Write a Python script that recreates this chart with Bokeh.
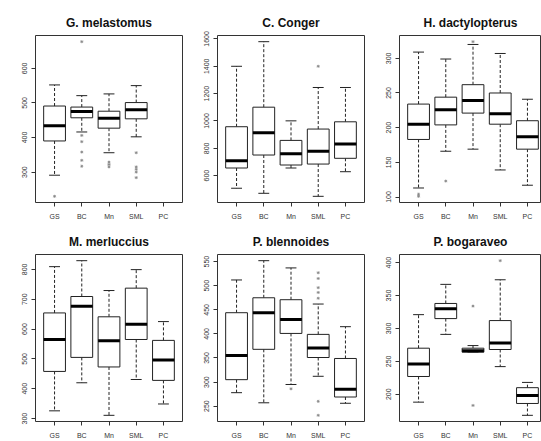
from bokeh.plotting import figure
from bokeh.layouts import gridplot
from bokeh.models import Range1d, FixedTicker
from bokeh.embed import file_html
from bokeh.resources import INLINE

SITES = ["GS", "BC", "Mn", "SML", "PC"]

# G. melastomus
GM_LOW = [291, 416, 356, 402, None]
GM_Q1 = [390, 457, 427, 454, None]
GM_MED = [434, 475, 456, 480, None]
GM_Q3 = [491, 488, 476, 501, None]
GM_HIGH = [552, 521, 526, 550, None]
GM_OUT = [[230], [677, 406, 388, 358, 334, 317], [329, 322, 315], [356, 315, 308, 300, 284], []]
GM_TICKS = [300, 400, 500, 600]

# C. Conger
CC_LOW = [508, 471, 656, 449, 629]
CC_Q1 = [656, 751, 678, 685, 727]
CC_MED = [709, 914, 761, 778, 831]
CC_Q3 = [958, 1101, 858, 941, 994]
CC_HIGH = [1400, 1580, 1001, 1245, 1245]
CC_OUT = [[], [], [], [1400], []]
CC_TICKS = [600, 800, 1000, 1200, 1400, 1600]

# H. dactylopterus
HD_LOW = [113, 166, 169, 139, 117]
HD_Q1 = [183, 204, 221, 205, 169]
HD_MED = [205, 226, 239, 220, 187]
HD_Q3 = [234, 244, 262, 250, 210]
HD_HIGH = [309, 299, 320, 307, 241]
HD_OUT = [[104, 101], [123], [324], [], []]
HD_TICKS = [100, 150, 200, 250, 300]

# M. merluccius
MM_LOW = [326, 420, 311, 431, 349]
MM_Q1 = [458, 505, 473, 565, 428]
MM_MED = [565, 676, 561, 616, 496]
MM_Q3 = [654, 709, 641, 737, 562]
MM_HIGH = [809, 829, 729, 799, 625]
MM_OUT = [[], [], [], [], []]
MM_TICKS = [300, 400, 500, 600, 700, 800]

# P. blennoides
PB_LOW = [278, 257, 295, 312, 256]
PB_Q1 = [305, 368, 401, 351, 269]
PB_MED = [355, 444, 430, 371, 285]
PB_Q3 = [444, 475, 471, 399, 349]
PB_HIGH = [512, 552, 537, 462, 415]
PB_OUT = [[], [], [286], [527, 515, 496, 486, 474, 260, 231], []]
PB_TICKS = [250, 300, 350, 400, 450, 500, 550]

# P. bogaraveo
PG_LOW = [188, 291, 264, 242, 168]
PG_Q1 = [227, 315, 264, 268, 186]
PG_MED = [246, 330, 266, 278, 198]
PG_Q3 = [270, 338, 270, 312, 210]
PG_HIGH = [321, 367, 274, 374, 218]
PG_OUT = [[], [], [334, 183], [403], []]
PG_TICKS = [200, 250, 300, 350, 400]

TITLES = ["G. melastomus", "C. Conger", "H. dactylopterus",
          "M. merluccius", "P. blennoides", "P. bogaraveo"]

PANELS = [
    (GM_LOW, GM_Q1, GM_MED, GM_Q3, GM_HIGH, GM_OUT, GM_TICKS),
    (CC_LOW, CC_Q1, CC_MED, CC_Q3, CC_HIGH, CC_OUT, CC_TICKS),
    (HD_LOW, HD_Q1, HD_MED, HD_Q3, HD_HIGH, HD_OUT, HD_TICKS),
    (MM_LOW, MM_Q1, MM_MED, MM_Q3, MM_HIGH, MM_OUT, MM_TICKS),
    (PB_LOW, PB_Q1, PB_MED, PB_Q3, PB_HIGH, PB_OUT, PB_TICKS),
    (PG_LOW, PG_Q1, PG_MED, PG_Q3, PG_HIGH, PG_OUT, PG_TICKS),
]

FONT = "Liberation Sans"
COL_W = [190, 182, 169]
BORDER_L = [35, 27, 27]
BORDER_R = [8, 8, 0]
ROW_H = [227, 214]
BORDER_T = [35, 26]
BORDER_B = [25, 20]
FULL_FRAME = 147.0
BOXW = 0.8


def make_panel(idx):
    low, q1, med, q3, high, outs, ticks = PANELS[idx]
    row, col = divmod(idx, 3)
    w = COL_W[col]
    frame_w = w - BORDER_L[col] - BORDER_R[col]
    xspan = (5.5 - 0.5) * 1.08
    x0 = 0.5 - (5.5 - 0.5) * 0.04
    x1 = x0 + xspan * frame_w / FULL_FRAME

    vals = [v for arr in (low, high) for v in arr if v is not None]
    vals += [v for o in outs for v in o]
    lo, hi = min(vals), max(vals)
    pad = 0.04 * (hi - lo)

    p = figure(width=w, height=ROW_H[row], output_backend="svg", toolbar_location=None,
               x_range=Range1d(x0, x1), y_range=Range1d(lo - pad, hi + pad),
               min_border_left=BORDER_L[col], min_border_right=BORDER_R[col],
               min_border_top=BORDER_T[row], min_border_bottom=BORDER_B[row],
               title=TITLES[idx])
    p.background_fill_color = "white"
    p.border_fill_color = "white"
    p.outline_line_color = "#333333"
    p.outline_line_width = 1
    p.grid.visible = False

    p.title.text_font = FONT
    p.title.text_font_size = "12px"
    p.title.text_font_style = "bold"
    p.title.text_color = "#111111"
    p.title.align = "center"
    p.title.standoff = 11
    if col == 2:
        p.title.offset = 3

    for ax in (p.xaxis, p.yaxis):
        ax.axis_line_color = None
        ax.major_tick_in = 0
        ax.major_tick_out = 4
        ax.major_tick_line_color = "#333333"
        ax.minor_tick_line_color = None
        ax.major_label_text_font = FONT
        ax.major_label_text_font_size = "7px"
        ax.major_label_text_color = "#333333"

    p.xaxis.ticker = FixedTicker(ticks=[1, 2, 3, 4, 5])
    p.xaxis.major_label_overrides = {i + 1: s for i, s in enumerate(SITES)}
    p.xaxis.major_label_standoff = 6
    p.yaxis.ticker = FixedTicker(ticks=ticks)
    p.yaxis.major_label_orientation = "vertical"
    p.yaxis.major_label_standoff = 4

    keep = [i for i in range(5) if med[i] is not None]
    xs = [i + 1 for i in keep]
    L = [low[i] for i in keep]
    Q1 = [q1[i] for i in keep]
    M = [med[i] for i in keep]
    Q3 = [q3[i] for i in keep]
    H = [high[i] for i in keep]

    # whiskers
    p.segment(x0=xs, y0=Q3, x1=xs, y1=H, line_color="#222222", line_width=1, line_dash="3 2")
    p.segment(x0=xs, y0=Q1, x1=xs, y1=L, line_color="#222222", line_width=1, line_dash="3 2")
    # staples
    p.segment(x0=[x - BOXW / 4 for x in xs], y0=H, x1=[x + BOXW / 4 for x in xs], y1=H,
              line_color="#222222", line_width=1)
    p.segment(x0=[x - BOXW / 4 for x in xs], y0=L, x1=[x + BOXW / 4 for x in xs], y1=L,
              line_color="#222222", line_width=1)
    # boxes
    p.quad(left=[x - BOXW / 2 for x in xs], right=[x + BOXW / 2 for x in xs],
           bottom=Q1, top=Q3, fill_color="white", line_color="#222222", line_width=1)
    # medians
    p.segment(x0=[x - BOXW / 2 for x in xs], y0=M, x1=[x + BOXW / 2 for x in xs], y1=M,
              line_color="#000000", line_width=3, line_cap="butt")
    # outliers
    ox = [i + 1 for i, o in enumerate(outs) for _ in o]
    oy = [v for o in outs for v in o]
    if ox:
        p.scatter(x=ox, y=oy, marker="asterisk", size=3, line_color="#888888", line_width=0.8)
    return p


figs = [make_panel(i) for i in range(6)]
grid = gridplot([figs[0:3], figs[3:6]], toolbar_location=None)

open("out.html", "w").write(file_html(grid, INLINE))
